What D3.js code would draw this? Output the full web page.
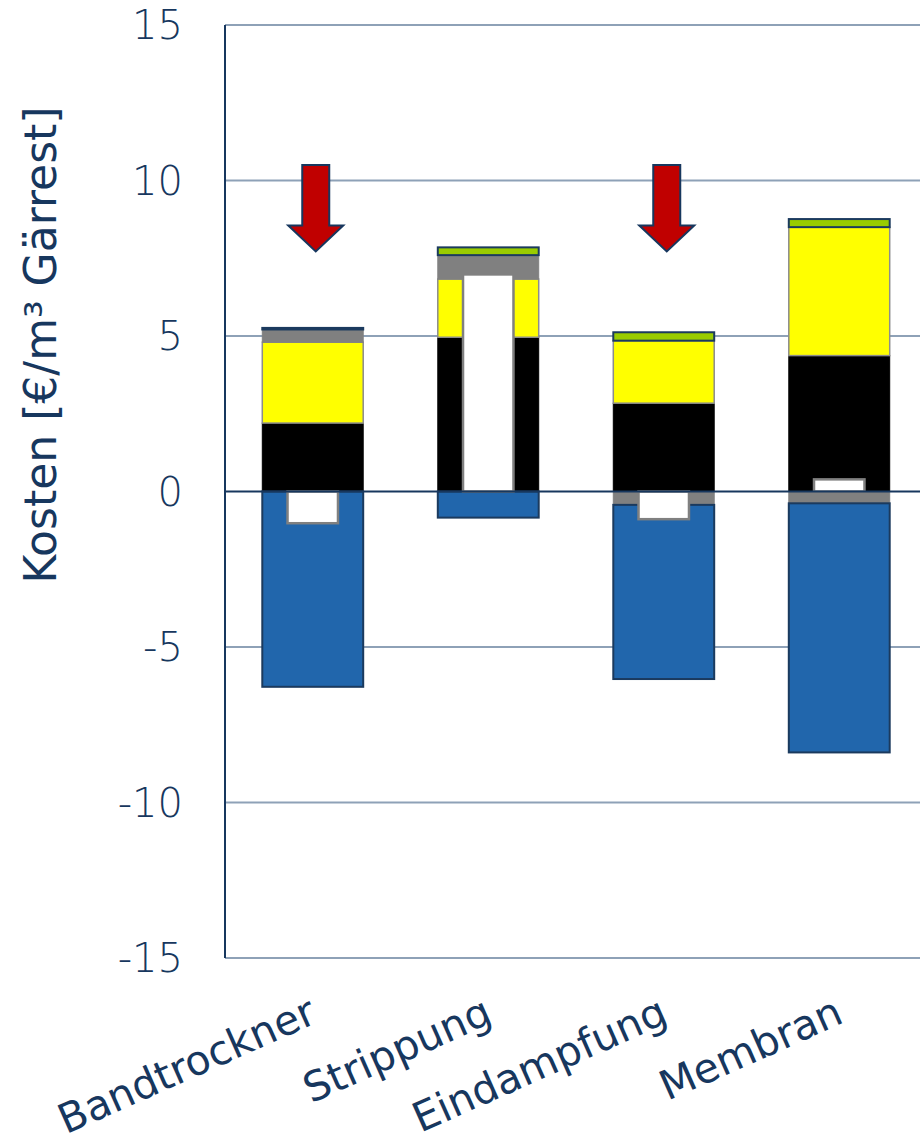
<!DOCTYPE html>
<html>
<head>
<meta charset="utf-8">
<script src="https://cdn.jsdelivr.net/npm/d3@7"></script>
<style>
  html, body { margin: 0; padding: 0; background: #ffffff; }
  svg { display: block; }
</style>
</head>
<body>
<svg id="chart" width="920" height="1139"></svg>
<script>
// Verfahren (categories)
const categories = ["Bandtrockner", "Strippung", "Eindampfung", "Membran"];

// Kostenanteile je Verfahren in €/m³ Gärrest, stacked in this order
const blackPart  = [2.20, 4.96, 2.84, 4.37];
const yellowPart = [2.60, 1.87, 2.01, 4.13];
const greyPart   = [0.41, 0.77, -0.43, -0.38];
const greenPart  = [0.05, 0.25, 0.27, 0.26];
const bluePart   = [-6.28, -0.84, -5.60, -8.01];

// Saldo (net result) per Verfahren, drawn as the narrow white bar
const netValue = [-1.02, 6.98, -0.89, 0.39];

// Verfahren highlighted with an arrow
const highlighted = ["Bandtrockner", "Eindampfung"];

// y axis ticks
const yTicks = [-15, -10, -5, 0, 5, 10, 15];

const svg = d3.select("#chart");
const navy = "#17375e";

const x = d3.scaleBand()
  .domain(categories)
  .range([225, 927])
  .paddingInner(0.425)
  .paddingOuter(0.2125);

const y = d3.scaleLinear().domain([-15, 15]).range([958, 25]);

const keys = ["black", "yellow", "grey", "green", "blue"];
const rows = categories.map((c, i) => ({
  cat: c,
  black: blackPart[i], yellow: yellowPart[i], grey: greyPart[i],
  green: greenPart[i], blue: bluePart[i]
}));

const style = {
  black:  { fill: "#000000", stroke: "#000000", sw: 1 },
  yellow: { fill: "#ffff00", stroke: "#8c8c8c", sw: 1.5 },
  grey:   { fill: "#808080", stroke: "#808080", sw: 1 },
  green:  { fill: "#99cc00", stroke: "#1b3a5e", sw: 2 },
  blue:   { fill: "#2166ac", stroke: "#1b3a5e", sw: 2 }
};

// Gridlines
svg.append("g")
  .selectAll("line")
  .data(yTicks.filter(t => t !== 0))
  .join("line")
  .attr("x1", 225).attr("x2", 920)
  .attr("y1", d => y(d)).attr("y2", d => y(d))
  .attr("stroke", "#8ea1b7")
  .attr("stroke-width", 2);

// Stacked segments
const stack = d3.stack().keys(keys).offset(d3.stackOffsetDiverging);
const series = stack(rows);

svg.append("g")
  .selectAll("g")
  .data(series)
  .join("g")
  .each(function (s) {
    const st = style[s.key];
    d3.select(this).selectAll("rect")
      .data(s)
      .join("rect")
      .attr("x", d => x(d.data.cat))
      .attr("width", x.bandwidth())
      .attr("y", d => y(Math.max(d[0], d[1])))
      .attr("height", d => Math.abs(y(d[0]) - y(d[1])))
      .attr("fill", st.fill)
      .attr("stroke", st.stroke)
      .attr("stroke-width", st.sw);
  });

// Net bars (narrow, white)
const netW = x.bandwidth() / 2;
svg.append("g")
  .selectAll("rect")
  .data(categories.map((c, i) => ({ cat: c, v: netValue[i] })))
  .join("rect")
  .attr("x", d => x(d.cat) + (x.bandwidth() - netW) / 2)
  .attr("width", netW)
  .attr("y", d => y(Math.max(0, d.v)))
  .attr("height", d => Math.abs(y(d.v) - y(0)))
  .attr("fill", "#ffffff")
  .attr("stroke", "#808080")
  .attr("stroke-width", 2.5);

// Zero line
svg.append("line")
  .attr("x1", 225).attr("x2", 920)
  .attr("y1", y(0)).attr("y2", y(0))
  .attr("stroke", navy)
  .attr("stroke-width", 2);

// Left axis line
svg.append("line")
  .attr("x1", 225).attr("x2", 225)
  .attr("y1", y(15)).attr("y2", y(-15))
  .attr("stroke", navy)
  .attr("stroke-width", 2);

// Tick labels
svg.append("g")
  .selectAll("text")
  .data(yTicks)
  .join("text")
  .attr("x", 183)
  .attr("y", d => y(d))
  .attr("dy", "0.36em")
  .attr("text-anchor", "end")
  .attr("font-family", "'DejaVu Sans', Verdana, sans-serif")
  .attr("font-weight", 200)
  .attr("font-size", 40)
  .attr("fill", navy)
  .text(d => d);

// Category labels
svg.append("g")
  .selectAll("text")
  .data(categories)
  .join("text")
  .attr("transform", d => `translate(${x(d) + x.bandwidth() / 2 + 6},1022) rotate(-24)`)
  .attr("text-anchor", "end")
  .attr("font-family", "'DejaVu Sans', Verdana, sans-serif")
  .attr("font-size", 41)
  .attr("fill", navy)
  .text(d => d);

// Y axis title
svg.append("text")
  .attr("transform", "translate(56,345) rotate(-90)")
  .attr("text-anchor", "middle")
  .attr("font-family", "'DejaVu Sans', Verdana, sans-serif")
  .attr("font-size", 44)
  .attr("fill", navy)
  .text("Kosten [€/m³ Gärrest]");

// Arrows above the highlighted Verfahren
const arrowTop = 10.5, shaftEnd = 8.55, tip = 7.72;
svg.append("g")
  .selectAll("path")
  .data(highlighted)
  .join("path")
  .attr("d", c => {
    const cx = x(c) + x.bandwidth() / 2 + 3;
    const pts = [
      [cx - 13.5, y(arrowTop)], [cx + 13.5, y(arrowTop)],
      [cx + 13.5, y(shaftEnd)], [cx + 27.5, y(shaftEnd)],
      [cx, y(tip)],
      [cx - 27.5, y(shaftEnd)], [cx - 13.5, y(shaftEnd)]
    ];
    return d3.line()(pts) + "Z";
  })
  .attr("fill", "#c00000")
  .attr("stroke", navy)
  .attr("stroke-width", 2)
  .attr("stroke-linejoin", "miter");
</script>
</body>
</html>
